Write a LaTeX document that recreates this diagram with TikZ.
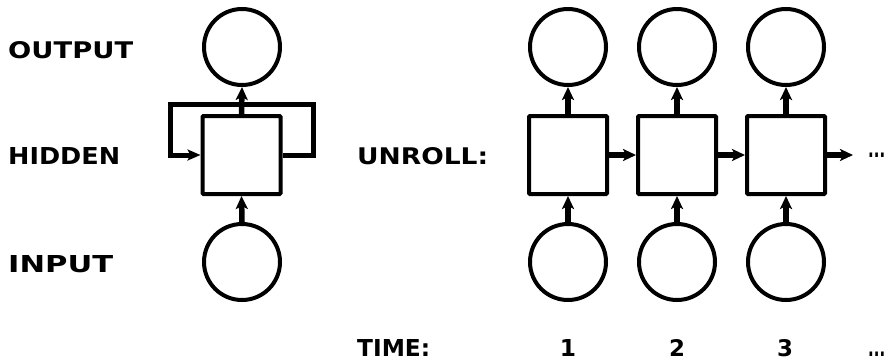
\documentclass[tikz,border=0pt]{standalone}
\usepackage{fontspec}
\setmainfont{DejaVu Sans}
\usepackage{graphicx}
\usetikzlibrary{arrows.meta,calc}
\tikzset{
  unit/.style={draw, line width=4pt, minimum width=78pt, minimum height=78pt, inner sep=0pt, rounded corners=1pt},
  cell/.style={draw, circle, line width=4pt, minimum size=76pt, inner sep=0pt},
  arr/.style={line width=5.5pt, -{Stealth[length=13pt,width=12pt,inset=3pt]}},
  loopline/.style={line width=5pt, line join=miter, -{Stealth[length=13pt,width=11pt,inset=3pt]}},
  lbl/.style={anchor=base west, inner sep=0pt, font=\bfseries},
  num/.style={anchor=base, inner sep=0pt, font=\bfseries},
}
\begin{document}
\begin{tikzpicture}[x=1pt,y=-1pt]
\useasboundingbox (0,0) rectangle (885,362);
% labels
\node[lbl] (tout) at (8,58) {\resizebox{125pt}{17pt}{OUTPUT}};
\node[lbl] (thid) at (8,164) {\resizebox{112pt}{17pt}{HIDDEN}};
\node[lbl] (tin) at (8,272) {\resizebox{105pt}{17pt}{INPUT}};
\node[lbl] (tunr) at (357,164) {\resizebox{131pt}{17pt}{UNROLL:}};
\node[lbl] (ttime) at (357,356) {\resizebox{73pt}{17pt}{TIME:}};
\node[num] (n1) at (568,356) {\resizebox{!}{17pt}{1}};
\node[num] (n2) at (677,356) {\resizebox{!}{17pt}{2}};
\node[num] (n3) at (785,356) {\resizebox{!}{17pt}{3}};
\node[lbl] (ndots) at (868,356) {\resizebox{17pt}{4.5pt}{...}};
\node[lbl] (hdots) at (868,157) {\resizebox{17pt}{4.5pt}{...}};
% folded network
\node[cell] (o) at (242,47) {};
\node[unit] (h) at (241.5,155) {};
\node[cell] (i) at (242,262) {};
\draw[arr] (h.north) -- (o.south);
\draw[arr] (i.north) -- (h.south);
\coordinate (lr) at (313,104);
\coordinate (ll) at (170.5,104);
\draw[loopline] (h.east) -- (h.east -| lr) -- (lr) -- (ll) -- (ll |- h.west) -- (h.west);
% unrolled network
\foreach \k/\x in {1/568,2/677,3/786}{
  \node[cell] (o\k) at (\x,47) {};
  \node[unit] (h\k) at (\x,155) {};
  \node[cell] (i\k) at (\x,262) {};
  \draw[arr] (h\k.north) -- (o\k.south);
  \draw[arr] (i\k.north) -- (h\k.south);
}
\draw[arr] (h1.east) -- (h2.west);
\draw[arr] (h2.east) -- (h3.west);
\coordinate (hend) at (853,155);
\draw[arr] (h3.east) -- (hend);
\end{tikzpicture}
\end{document}
